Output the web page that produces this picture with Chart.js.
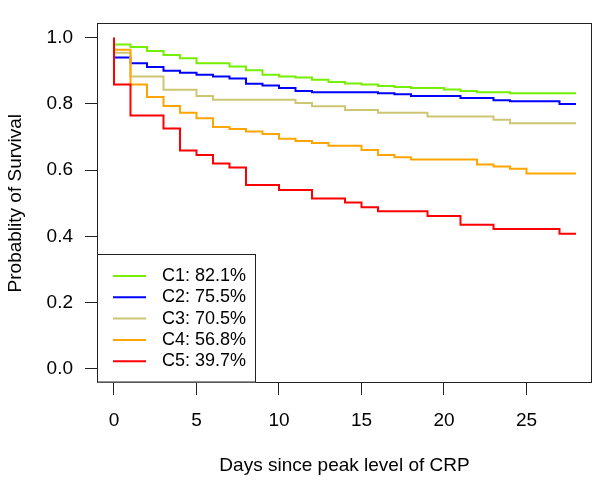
<!DOCTYPE html>
<html>
<head>
<meta charset="utf-8">
<script src="https://cdn.jsdelivr.net/npm/chart.js@4.4.1/dist/chart.umd.min.js"></script>
<style>
  html, body { margin: 0; padding: 0; background: #fff; }
  canvas { display: block; }
</style>
</head>
<body>
<canvas id="km" width="600" height="484"></canvas>
<script>
// Kaplan-Meier steps (day of drop, survival after drop)
const c1Days = [0, 0, 1, 2, 3, 4, 5, 7, 8, 9, 10, 11, 12, 13, 14, 15, 16, 17, 18, 20, 21, 22, 24, 28];
const c1Surv = [1.0, 0.980, 0.972, 0.960, 0.948, 0.938, 0.923, 0.913, 0.902, 0.888, 0.883, 0.880, 0.873, 0.866, 0.862, 0.859, 0.854, 0.851, 0.848, 0.844, 0.839, 0.835, 0.832, 0.832];

const c2Days = [0, 0, 1, 2, 3, 4, 5, 6, 7, 8, 9, 10, 11, 12, 16, 17, 18, 21, 23, 24, 27, 28];
const c2Surv = [1.0, 0.940, 0.923, 0.912, 0.900, 0.894, 0.888, 0.883, 0.877, 0.861, 0.856, 0.848, 0.839, 0.835, 0.832, 0.829, 0.824, 0.818, 0.811, 0.808, 0.800, 0.800];

const c3Days = [0, 0, 1, 3, 5, 6, 11, 12, 14, 16, 19, 23, 24, 28];
const c3Surv = [1.0, 0.955, 0.883, 0.843, 0.824, 0.813, 0.803, 0.793, 0.782, 0.773, 0.762, 0.752, 0.742, 0.742];

const c4Days = [0, 0, 1, 2, 3, 4, 5, 6, 7, 8, 9, 10, 11, 12, 13, 15, 16, 17, 18, 22, 23, 24, 25, 28];
const c4Surv = [1.0, 0.964, 0.859, 0.821, 0.794, 0.773, 0.757, 0.730, 0.724, 0.717, 0.709, 0.695, 0.688, 0.682, 0.674, 0.661, 0.646, 0.639, 0.632, 0.617, 0.611, 0.604, 0.590, 0.590];

const c5Days = [0, 0, 1, 3, 4, 5, 6, 7, 8, 10, 12, 14, 15, 16, 19, 21, 23, 27, 28];
const c5Surv = [1.0, 0.859, 0.765, 0.726, 0.659, 0.646, 0.620, 0.608, 0.555, 0.540, 0.514, 0.502, 0.488, 0.476, 0.461, 0.435, 0.422, 0.408, 0.408];

const groupLabels = ["C1: 82.1%", "C2: 75.5%", "C3: 70.5%", "C4: 56.8%", "C5: 39.7%"];
const groupColors = ["#76EE00", "#0000FF", "#CDC673", "#FFA500", "#FF0000"];

const xTicks = [0, 5, 10, 15, 20, 25];
const yTicks = [0, 0.2, 0.4, 0.6, 0.8, 1.0];

const FONT = "'Liberation Sans', Arial, Helvetica, sans-serif";

function toPoints(days, surv) {
    return days.map(function (d, i) { return { x: d, y: surv[i] }; });
}

const allDays = [c1Days, c2Days, c3Days, c4Days, c5Days];
const allSurv = [c1Surv, c2Surv, c3Surv, c4Surv, c5Surv];

const datasets = groupLabels.map(function (lab, i) {
    return {
        label: lab,
        data: toPoints(allDays[i], allSurv[i]),
        borderColor: groupColors[i],
        borderWidth: 2,
        stepped: 'before',
        pointRadius: 0,
        fill: false,
        order: groupLabels.length - i
    };
});

// box, legend and axis titles, drawn like base R graphics
const extras = {
    id: 'extras',
    afterDraw: function (chart) {
        const ctx = chart.ctx;
        const a = chart.chartArea;
        ctx.save();
        ctx.strokeStyle = '#222';
        ctx.lineWidth = 1;
        ctx.strokeRect(Math.round(a.left) + 0.5, Math.round(a.top) + 0.5,
            Math.round(a.right - a.left) - 1, Math.round(a.bottom - a.top) - 1);

        // legend
        const lx = Math.round(a.left) + 0.5, ly = 254.5;
        ctx.fillStyle = '#fff';
        ctx.fillRect(lx, ly, 158, a.bottom - ly - 0.5);
        ctx.strokeRect(lx, ly, 158, a.bottom - ly - 1);
        ctx.font = '18px ' + FONT;
        ctx.textBaseline = 'middle';
        ctx.textAlign = 'left';
        for (var i = 0; i < groupLabels.length; i++) {
            var yy = 276 + i * 21.3;
            ctx.strokeStyle = groupColors[i];
            ctx.lineWidth = 2;
            ctx.beginPath();
            ctx.moveTo(113, yy);
            ctx.lineTo(146, yy);
            ctx.stroke();
            ctx.fillStyle = '#000';
            ctx.fillText(groupLabels[i], 162, yy);
        }

        // axis titles
        ctx.font = '19px ' + FONT;
        ctx.fillStyle = '#000';
        ctx.textAlign = 'center';
        ctx.fillText('Days since peak level of CRP', (a.left + a.right) / 2, 466);
        ctx.translate(16, (a.top + a.bottom) / 2);
        ctx.rotate(-Math.PI / 2);
        ctx.fillText('Probablity of Survival', 0, 0);
        ctx.restore();
    }
};

new Chart(document.getElementById('km'), {
    type: 'line',
    data: { datasets: datasets },
    options: {
        responsive: false,
        animation: false,
        devicePixelRatio: 1,
        layout: { padding: { left: 0, top: 7, right: 8, bottom: 0 } },
        plugins: { legend: { display: false }, tooltip: { enabled: false } },
        scales: {
            x: {
                type: 'linear',
                min: -1.03,
                max: 28.97,
                afterFit: function (s) { s.height = 101; },
                afterBuildTicks: function (s) { s.ticks = xTicks.map(function (v) { return { value: v }; }); },
                border: { display: false },
                grid: { drawOnChartArea: false, drawTicks: true, tickLength: 12, tickColor: '#222', lineWidth: 1 },
                ticks: {
                    padding: 14,
                    color: '#000',
                    font: { family: FONT, size: 19 },
                    maxRotation: 0,
                    callback: function (v) { return String(v); }
                }
            },
            y: {
                type: 'linear',
                min: -0.0434,
                max: 1.0434,
                afterFit: function (s) { s.width = 97; },
                afterBuildTicks: function (s) { s.ticks = yTicks.map(function (v) { return { value: v }; }); },
                border: { display: false },
                grid: { drawOnChartArea: false, drawTicks: true, tickLength: 12, tickColor: '#222', lineWidth: 1 },
                ticks: {
                    padding: 12,
                    color: '#000',
                    font: { family: FONT, size: 19 },
                    callback: function (v) { return v.toFixed(1); }
                }
            }
        }
    },
    plugins: [extras]
});
</script>
</body>
</html>
